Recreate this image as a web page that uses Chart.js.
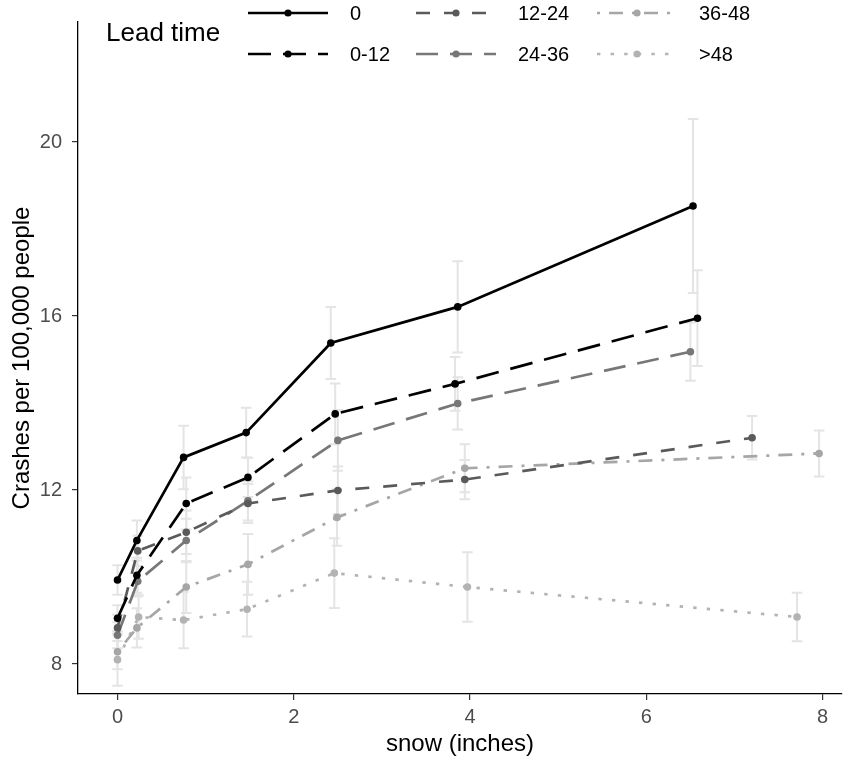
<!DOCTYPE html>
<html>
<head>
<meta charset="utf-8">
<script src="https://cdn.jsdelivr.net/npm/chart.js@4.4.1/dist/chart.umd.min.js"></script>
<style>
  html, body { margin: 0; padding: 0; background: #fff; }
</style>
</head>
<body>
<canvas id="myChart" width="849" height="761"></canvas>
<script>
// lead time groups
const leadTimes = ['0', '0-12', '12-24', '24-36', '36-48', '>48'];

// snow (inches) per bin, crashes per 100,000 and half-width of error bar
const snow0 = [0, 0.22, 0.75, 1.46, 2.42, 3.86, 6.53];
const crash0 = [9.93, 10.84, 12.75, 13.32, 15.38, 16.21, 18.53];
const err0 = [0.34, 0.46, 0.73, 0.57, 0.83, 1.05, 2.0];

const snow0_12 = [0, 0.22, 0.78, 1.48, 2.47, 3.83, 6.58];
const crash0_12 = [9.05, 10.04, 11.69, 12.29, 13.75, 14.44, 15.95];
const err0_12 = [0.3, 0.4, 0.6, 0.45, 0.7, 0.62, 1.1];

const snow12_24 = [0, 0.23, 0.78, 1.48, 2.5, 3.94, 7.2];
const crash12_24 = [8.83, 10.6, 11.03, 11.69, 11.99, 12.24, 13.2];
const err12_24 = [0.3, 0.35, 0.5, 0.45, 0.55, 0.45, 0.5];

const snow24_36 = [0, 0.23, 0.78, 1.48, 2.5, 3.86, 6.5];
const crash24_36 = [8.66, 9.9, 10.84, 11.75, 13.14, 13.99, 15.18];
const err24_36 = [0.3, 0.35, 0.5, 0.45, 0.7, 0.6, 0.67];

const snow36_48 = [0, 0.22, 0.78, 1.48, 2.49, 3.94, 7.96];
const crash36_48 = [8.28, 8.83, 9.77, 10.29, 11.37, 12.5, 12.84];
const err36_48 = [0.4, 0.45, 0.6, 0.7, 0.65, 0.55, 0.53];

const snow48 = [0, 0.24, 0.75, 1.47, 2.46, 3.97, 7.71];
const crash48 = [8.1, 9.08, 9.01, 9.26, 10.09, 9.77, 9.08];
const err48 = [0.6, 0.5, 0.65, 0.63, 0.8, 0.8, 0.56];

const xTicks = [0, 2, 4, 6, 8];
const yTicks = [8, 12, 16, 20];

const snows = [snow0, snow0_12, snow12_24, snow24_36, snow36_48, snow48];
const crashes = [crash0, crash0_12, crash12_24, crash24_36, crash36_48, crash48];
const errs = [err0, err0_12, err12_24, err24_36, err36_48, err48];

// styling
const colors = ['#000000', '#000000', '#5a5a5a', '#777777', '#a6a6a6', '#b3b3b3'];
const dashes = [[], [23, 12], [14, 14], [22, 12], [3, 9, 14, 9], [3.4, 10.2]];
const FONT = '"Liberation Sans", Arial, sans-serif';

const errorBars = {
  id: 'errorBars',
  beforeDatasetsDraw(chart) {
    const { ctx, chartArea, scales: { x, y } } = chart;
    ctx.save();
    ctx.beginPath();
    ctx.rect(chartArea.left, chartArea.top, chartArea.width, chartArea.height);
    ctx.clip();
    ctx.strokeStyle = '#e4e4e4';
    ctx.lineWidth = 2;
    chart.data.datasets.forEach(ds => {
      ds.data.forEach((p, i) => {
        const px = x.getPixelForValue(p.x);
        const top = y.getPixelForValue(p.y + ds.err[i]);
        const bot = y.getPixelForValue(p.y - ds.err[i]);
        const hw = x.getPixelForValue(p.x + 0.06) - px;
        ctx.beginPath();
        ctx.moveTo(px, top); ctx.lineTo(px, bot);
        ctx.moveTo(px - hw, top); ctx.lineTo(px + hw, top);
        ctx.moveTo(px - hw, bot); ctx.lineTo(px + hw, bot);
        ctx.stroke();
      });
    });
    ctx.restore();
  }
};

// ggplot-like legend: title on the left, 3 columns x 2 rows
const leadLegend = {
  id: 'leadLegend',
  afterDraw(chart) {
    const ctx = chart.ctx;
    ctx.save();
    ctx.fillStyle = '#000';
    ctx.textBaseline = 'middle';
    ctx.font = '26px ' + FONT;
    ctx.fillText('Lead time', 106, 34);
    ctx.font = '20px ' + FONT;
    chart.data.datasets.forEach((ds, i) => {
      const col = Math.floor(i / 2), row = i % 2;
      const lx = [248, 416, 597][col];
      const ly = [13, 54][row];
      ctx.strokeStyle = ds.borderColor;
      ctx.lineWidth = ds.borderWidth;
      ctx.setLineDash(ds.borderDash);
      ctx.beginPath();
      ctx.moveTo(lx, ly);
      ctx.lineTo(lx + 80, ly);
      ctx.stroke();
      ctx.setLineDash([]);
      ctx.fillStyle = ds.borderColor;
      ctx.beginPath();
      ctx.arc(lx + 40, ly, 3.6, 0, Math.PI * 2);
      ctx.fill();
      ctx.fillStyle = '#000';
      ctx.fillText(ds.label, lx + 102, ly + 1);
    });
    ctx.restore();
  }
};

new Chart(document.getElementById('myChart'), {
  type: 'line',
  data: {
    datasets: leadTimes.map((lt, i) => ({
      label: lt,
      data: snows[i].map((s, j) => ({ x: s, y: crashes[i][j] })),
      err: errs[i],
      borderColor: colors[i],
      backgroundColor: colors[i],
      borderWidth: 2.7,
      borderDash: dashes[i],
      borderCapStyle: 'butt',
      tension: 0,
      pointRadius: 3.8,
      pointBorderWidth: 0,
      pointBackgroundColor: colors[i],
      fill: false
    }))
  },
  options: {
    responsive: false,
    animation: false,
    layout: { padding: { top: 20, right: 7, left: 0, bottom: 0 } },
    plugins: { legend: { display: false }, tooltip: { enabled: false } },
    scales: {
      x: {
        type: 'linear',
        min: -0.448,
        max: 8.22,
        afterBuildTicks: s => { s.ticks = xTicks.map(v => ({ value: v })); },
        afterFit: s => { s.height = 67; },
        grid: { display: true, drawOnChartArea: false, drawTicks: true, tickLength: 6, color: '#333', lineWidth: 1.2 },
        border: { display: true, color: '#000', width: 1.3 },
        ticks: { color: '#4d4d4d', font: { family: FONT, size: 20 }, padding: 5, maxRotation: 0 },
        title: { display: true, text: 'snow (inches)', color: '#000', font: { family: FONT, size: 24, lineHeight: 1.2 }, padding: { top: 0, bottom: 2 } }
      },
      y: {
        min: 7.31,
        max: 22.76,
        afterBuildTicks: s => { s.ticks = yTicks.map(v => ({ value: v })); },
        afterFit: s => { s.width = 78; },
        grid: { display: true, drawOnChartArea: false, drawTicks: true, tickLength: 6, color: '#333', lineWidth: 1.2 },
        border: { display: true, color: '#000', width: 1.3 },
        ticks: { color: '#4d4d4d', font: { family: FONT, size: 20 }, padding: 10 },
        title: { display: true, text: 'Crashes per 100,000 people', color: '#000', font: { family: FONT, size: 24, lineHeight: 1.2 }, padding: { top: 8, bottom: 0 } }
      }
    }
  },
  plugins: [errorBars, leadLegend]
});
</script>
</body>
</html>
